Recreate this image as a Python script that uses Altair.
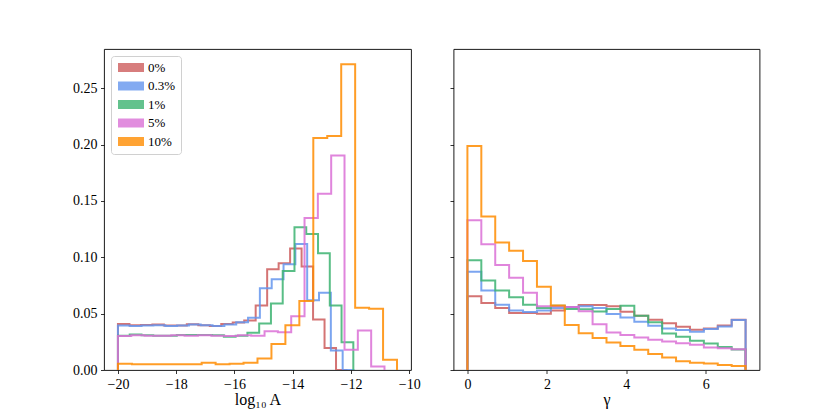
import altair as alt
import pandas as pd

# ---------------- data ----------------
series = ["0%", "0.3%", "1%", "5%", "10%"]
line_colors = ["#cd5c5c", "#6495ed", "#3cb371", "#da70d6", "#ff8c00"]
patch_colors = ["#d77d7d", "#83aaf1", "#63c28d", "#e18dde", "#ffa333"]

# left panel: log10 A, 20 bins per series from -20 to the series' own maximum
logA_lo = -20.0
logA_hi = [-12.12, -11.88, -11.92, -10.85, -10.42]
logA_h = {
    "0%":   [0.0409, 0.0397, 0.0400, 0.0403, 0.0394, 0.0394, 0.0406, 0.0397, 0.0391, 0.0409,
             0.0421, 0.0439, 0.0573, 0.0895, 0.0948, 0.1079, 0.0918, 0.0448, 0.0195, 0.0],
    "0.3%": [0.0394, 0.0391, 0.0394, 0.0397, 0.0391, 0.0394, 0.0403, 0.0397, 0.0391, 0.0403,
             0.0424, 0.0463, 0.0725, 0.0805, 0.0939, 0.1118, 0.0620, 0.0686, 0.0174, 0.0],
    "1%":   [0.0305, 0.0314, 0.0308, 0.0305, 0.0305, 0.0311, 0.0311, 0.0311, 0.0308, 0.0296,
             0.0305, 0.0330, 0.0412, 0.0591, 0.0879, 0.1266, 0.1207, 0.1037, 0.0573, 0.0246],
    "5%":   [0.0302, 0.0308, 0.0305, 0.0305, 0.0308, 0.0305, 0.0308, 0.0305, 0.0302, 0.0308,
             0.0305, 0.0344, 0.0335, 0.0478, 0.1350, 0.1564, 0.1904, 0.0180, 0.0350, 0.0030],
    "10%":  [0.0055, 0.0052, 0.0050, 0.0050, 0.0050, 0.0050, 0.0064, 0.0052, 0.0055, 0.0065,
             0.0102, 0.0230, 0.0397, 0.0612, 0.2060, 0.2076, 0.2713, 0.0552, 0.0543, 0.0091],
}

# right panel: gamma, 20 bins from 0 to 7
gamma_lo = 0.0
gamma_hi = 7.0
gamma_h = {
    "0%":   [0.0655, 0.0595, 0.0551, 0.0506, 0.0506, 0.0500, 0.0527, 0.0560, 0.0577, 0.0577,
             0.0565, 0.0518, 0.0482, 0.0446, 0.0414, 0.0384, 0.0357, 0.0369, 0.0396, 0.0446],
    "0.3%": [0.0872, 0.0705, 0.0580, 0.0527, 0.0515, 0.0527, 0.0551, 0.0557, 0.0565, 0.0550,
             0.0497, 0.0467, 0.0429, 0.0393, 0.0369, 0.0354, 0.0339, 0.0363, 0.0387, 0.0443],
    "1%":   [0.0973, 0.0795, 0.0705, 0.0646, 0.0580, 0.0551, 0.0571, 0.0542, 0.0540, 0.0520,
             0.0542, 0.0571, 0.0482, 0.0423, 0.0324, 0.0295, 0.0259, 0.0235, 0.0205, 0.0182],
    "5%":   [0.1330, 0.1116, 0.0932, 0.0818, 0.0685, 0.0565, 0.0565, 0.0560, 0.0521, 0.0405,
             0.0333, 0.0310, 0.0289, 0.0268, 0.0253, 0.0238, 0.0223, 0.0199, 0.0193, 0.0185],
    "10%":  [0.1987, 0.1363, 0.1131, 0.1059, 0.0968, 0.0738, 0.0573, 0.0400, 0.0327, 0.0283,
             0.0244, 0.0214, 0.0179, 0.0143, 0.0110, 0.0077, 0.0065, 0.0057, 0.0045, 0.0036],
}

x_ticks_left = [-20, -18, -16, -14, -12, -10]
x_ticks_right = [0, 2, 4, 6]
y_ticks = [0.0, 0.05, 0.10, 0.15, 0.20, 0.25]
y_max = 0.2849
left_domain = [-20.479, -9.94]
right_domain = [-0.35, 7.35]

FONT = "Liberation Serif"


def step_rows(name, lo, hi, heights):
    n = len(heights)
    w = (hi - lo) / n
    edges = [lo + i * w for i in range(n + 1)]
    pts = [(edges[0], 0.0)]
    for i, h in enumerate(heights):
        pts.append((edges[i], h))
        pts.append((edges[i + 1], h))
    pts.append((edges[-1], 0.0))
    return [{"series": name, "k": j, "x": px, "y": py} for j, (px, py) in enumerate(pts)]


rows_left, rows_right = [], []
for s, hi in zip(series, logA_hi):
    rows_left += step_rows(s, logA_lo, hi, logA_h[s])
    rows_right += step_rows(s, gamma_lo, gamma_hi, gamma_h[s])
df_left = pd.DataFrame(rows_left)
df_right = pd.DataFrame(rows_right)
# one invisible anchor per series, only used to build the legend
df_legend = pd.DataFrame({"series": series, "x": [logA_lo] * 5, "y": [0.001] * 5})

stroke_scale = alt.Scale(domain=series, range=line_colors)
fill_scale = alt.Scale(domain=series, range=patch_colors)
y_scale = alt.Scale(domain=[0, y_max], nice=False, zero=False)

W, H = 307, 321
RECT = "M-1,-1H4.78V1H-1Z"


def lines(df, domain, ticks, title, show_y_labels):
    return alt.Chart(df).mark_line(strokeWidth=2.0, opacity=0.85, clip=True).encode(
        x=alt.X("x:Q", scale=alt.Scale(domain=domain, nice=False, zero=False),
                axis=alt.Axis(values=ticks, format="d", title=title)),
        y=alt.Y("y:Q", scale=y_scale,
                axis=alt.Axis(values=y_ticks, format=".2f", title=None,
                              labels=show_y_labels,
                              minExtent=40 if show_y_labels else 0)),
        stroke=alt.Stroke("series:N", scale=stroke_scale, legend=None),
        detail="series:N",
        order="k:Q",
    )


legend_layer = alt.Chart(df_legend).mark_point(
    filled=True, opacity=0, size=81, shape=RECT
).encode(
    x="x:Q",
    y=alt.Y("y:Q", scale=y_scale),
    fill=alt.Fill("series:N", scale=fill_scale, title=None,
                  legend=alt.Legend(orient="none", legendX=7, legendY=7, padding=5,
                                    symbolType=RECT, symbolSize=81,
                                    symbolStrokeWidth=0, symbolOpacity=1,
                                    labelOffset=19, rowPadding=4.5,
                                    strokeColor="#d0d0d0", fillColor="white",
                                    cornerRadius=3, labelFont=FONT, labelFontSize=13,
                                    labelColor="black")),
)

left = alt.layer(legend_layer,
                 lines(df_left, left_domain, x_ticks_left, "log₁₀ A", True)
                 ).properties(width=W, height=H)
right = lines(df_right, right_domain, x_ticks_right, "γ", False).properties(width=306, height=H)

chart = alt.hconcat(left, right, spacing=27.5).resolve_scale(
    fill="independent", stroke="independent"
).properties(
    padding={"left": 55, "top": 40, "right": 5, "bottom": 5}
).configure_view(
    stroke="black", strokeWidth=0.9
).configure_axis(
    domain=False, grid=False, ticks=True, tickSize=3.5, tickWidth=0.8, tickColor="black",
    labelPadding=3.5, labelFont=FONT, labelFontSize=14, labelColor="black",
    titleFont=FONT, titleFontSize=16, titleFontWeight="normal", titleColor="black",
    titlePadding=0,
)

chart.save("out.html", embed_options={"renderer": "svg", "actions": False})
